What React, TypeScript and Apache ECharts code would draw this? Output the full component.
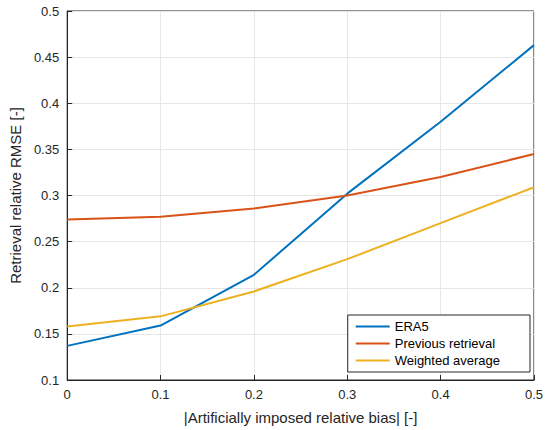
import React, { useEffect, useRef } from 'react';
import * as echarts from 'echarts';

const biasValues = [0, 0.1, 0.2, 0.3, 0.4, 0.5];
const era5 = [0.137, 0.159, 0.214, 0.302, 0.38, 0.463];
const previousRetrieval = [0.274, 0.277, 0.286, 0.3, 0.32, 0.345];
const weightedAverage = [0.158, 0.169, 0.196, 0.231, 0.27, 0.309];

const pairs = (ys: number[]) => ys.map((y, i) => [biasValues[i], y]);

export default function App() {
  const chartRef = useRef<HTMLDivElement>(null);

  useEffect(() => {
    document.body.style.margin = '0';
    if (!chartRef.current) return;
    const chart = echarts.init(chartRef.current, undefined, { renderer: 'svg' });
    const font = 'Helvetica, "Liberation Sans", Arial, sans-serif';
    const axisCommon = {
      axisLine: { show: true, lineStyle: { color: '#262626', width: 1 } },
      axisTick: { show: true, inside: true, length: 5, lineStyle: { color: '#262626' } },
      axisLabel: { color: '#262626', fontSize: 13, fontFamily: font },
      splitLine: { show: true, lineStyle: { color: '#e6e6e6', width: 1 } },
      nameTextStyle: { color: '#262626', fontSize: 15, fontFamily: font },
    };
    chart.setOption({
      animation: false,
      backgroundColor: '#fff',
      grid: {
        left: 66,
        right: 10,
        top: 11,
        bottom: 49,
        show: true,
        borderColor: '#262626',
        borderWidth: 1,
      },
      xAxis: {
        type: 'value',
        min: 0,
        max: 0.5,
        interval: 0.1,
        name: '|Artificially imposed relative bias| [-]',
        nameLocation: 'middle',
        nameGap: 30,
        ...axisCommon,
      },
      yAxis: {
        type: 'value',
        min: 0.1,
        max: 0.5,
        interval: 0.05,
        name: 'Retrieval relative RMSE [-]',
        nameLocation: 'middle',
        nameGap: 42,
        ...axisCommon,
      },
      legend: {
        orient: 'vertical',
        right: 16,
        bottom: 58,
        backgroundColor: '#fff',
        borderColor: '#262626',
        borderWidth: 1,
        borderRadius: 0,
        padding: [5, 30, 5, 8],
        itemGap: 4,
        itemWidth: 34,
        itemHeight: 2,
        icon: 'rect',
        textStyle: { fontSize: 13, color: '#000', fontFamily: font },
        data: ['ERA5', 'Previous retrieval', 'Weighted average'],
      },
      series: [
        { name: 'ERA5', data: pairs(era5), color: '#0072BD' },
        { name: 'Previous retrieval', data: pairs(previousRetrieval), color: '#D95319' },
        { name: 'Weighted average', data: pairs(weightedAverage), color: '#EDB120' },
      ].map((s) => ({
        ...s,
        type: 'line',
        showSymbol: false,
        lineStyle: { width: 2, color: s.color },
        itemStyle: { color: s.color },
      })),
    });
    return () => chart.dispose();
  }, []);

  return <div ref={chartRef} style={{ width: 546, height: 430 }} />;
}
